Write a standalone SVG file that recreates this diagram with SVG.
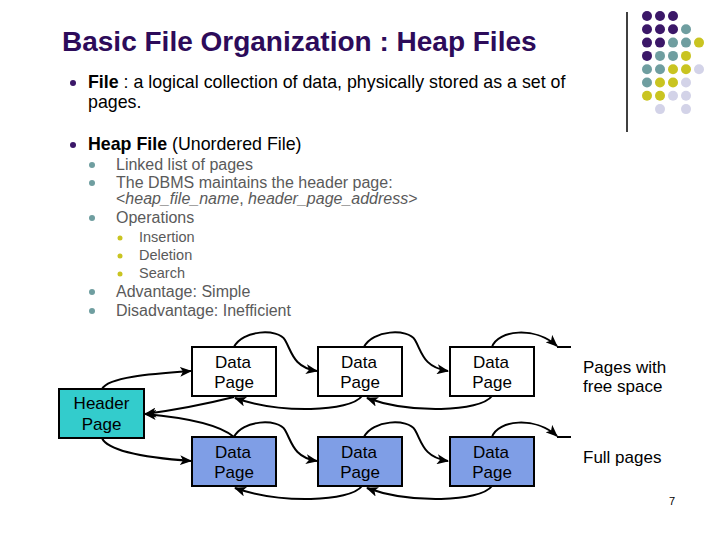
<svg xmlns="http://www.w3.org/2000/svg" width="720" height="540" viewBox="0 0 720 540">
<defs>
<style>
.t{font-family:"Liberation Sans",Arial,sans-serif}
.title{font-size:28px;font-weight:bold;fill:#2d0b5a}
.l1{font-size:17.8px;fill:#000}
.l2{font-size:16px;fill:#5a5a5a}
.l3{font-size:14.5px;fill:#5a5a5a}
.b{font-weight:bold}
.i{font-style:italic}
.nodeT{font-size:17px;fill:#000;text-anchor:middle}
.lbl{font-size:17px;fill:#000}
.box{stroke:#000;stroke-width:2}
.w{fill:#fff}
.f{fill:#7f9ee6}
.h{fill:#33cccc}
.c{fill:none;stroke:#000;stroke-width:2}
.a{marker-end:url(#arr)}
.p{fill:#3b1768}.g{fill:#6f9ea0}.y{fill:#c9c421}.v{fill:#d3d3e8}
</style>
<marker id="arr" viewBox="0 0 12 10" refX="11" refY="5" markerWidth="12" markerHeight="10" markerUnits="userSpaceOnUse" orient="auto">
<path d="M0,0 L12,5 L0,10 L3,5 z" fill="#000"/>
</marker>
</defs>
<rect width="720" height="540" fill="#fff"/>

<g id="decor">
<line x1="627" y1="12" x2="627" y2="132" stroke="#000" stroke-width="1.5"/>
<circle class="p" cx="647" cy="16" r="5"/><circle class="p" cx="660" cy="16" r="5"/><circle class="p" cx="673" cy="16" r="5"/>
<circle class="p" cx="647" cy="29.3" r="5"/><circle class="p" cx="660" cy="29.3" r="5"/><circle class="p" cx="673" cy="29.3" r="5"/><circle class="g" cx="686" cy="29.3" r="5"/>
<circle class="p" cx="647" cy="42.6" r="5"/><circle class="p" cx="660" cy="42.6" r="5"/><circle class="g" cx="673" cy="42.6" r="5"/><circle class="g" cx="686" cy="42.6" r="5"/><circle class="y" cx="699" cy="42.6" r="5"/>
<circle class="p" cx="647" cy="55.9" r="5"/><circle class="g" cx="660" cy="55.9" r="5"/><circle class="g" cx="673" cy="55.9" r="5"/><circle class="y" cx="686" cy="55.9" r="5"/>
<circle class="g" cx="647" cy="69.2" r="5"/><circle class="g" cx="660" cy="69.2" r="5"/><circle class="y" cx="673" cy="69.2" r="5"/><circle class="y" cx="686" cy="69.2" r="5"/><circle class="v" cx="699" cy="69.2" r="5"/>
<circle class="g" cx="647" cy="82.5" r="5"/><circle class="y" cx="660" cy="82.5" r="5"/><circle class="y" cx="673" cy="82.5" r="5"/><circle class="v" cx="686" cy="82.5" r="5"/>
<circle class="y" cx="647" cy="95.8" r="5"/><circle class="y" cx="660" cy="95.8" r="5"/><circle class="v" cx="673" cy="95.8" r="5"/><circle class="v" cx="686" cy="95.8" r="5"/>
<circle class="v" cx="660" cy="109.1" r="5"/><circle class="v" cx="686" cy="109.1" r="5"/>
</g>

<g id="text">
<text class="t title" x="62" y="51">Basic File Organization : Heap Files</text>
<circle class="p" cx="73" cy="83" r="3"/>
<text class="t l1" x="88" y="88"><tspan class="b">File</tspan> : a logical collection of data, physically stored as a set of<tspan x="88" dy="20.2">pages.</tspan></text>
<circle class="p" cx="73" cy="145" r="3"/>
<text class="t l1" x="88" y="150"><tspan class="b">Heap File</tspan> (Unordered File)</text>
<circle class="g" cx="92" cy="165" r="3"/>
<text class="t l2" x="116" y="170">Linked list of pages</text>
<circle class="g" cx="92" cy="183" r="3"/>
<text class="t l2" x="116" y="188">The DBMS maintains the header page:<tspan x="116" dy="16">&lt;</tspan><tspan class="i">heap_file_name</tspan>, <tspan class="i">header_page_address</tspan>&gt;</text>
<circle class="g" cx="92" cy="218" r="3"/>
<text class="t l2" x="116" y="223">Operations</text>
<circle class="y" cx="120" cy="238" r="2.5"/>
<text class="t l3" x="139" y="242">Insertion</text>
<circle class="y" cx="120" cy="256" r="2.5"/>
<text class="t l3" x="139" y="260">Deletion</text>
<circle class="y" cx="120" cy="274" r="2.5"/>
<text class="t l3" x="139" y="278">Search</text>
<circle class="g" cx="92" cy="292" r="3"/>
<text class="t l2" x="116" y="297">Advantage: Simple</text>
<circle class="g" cx="92" cy="311" r="3"/>
<text class="t l2" x="116" y="316">Disadvantage: Inefficient</text>
<text class="t lbl" x="583" y="373">Pages with<tspan x="583" dy="19">free space</tspan></text>
<text class="t lbl" x="583" y="463">Full pages</text>
<text class="t" x="669" y="505" font-size="11">7</text>
</g>

<g id="connectors">
<path class="c a" d="M102,389 C108,377 150,374 191,371"/>
<path class="c a" d="M234,347 C242,330 278,328 285,340 C292,352 293,367 317,371"/>
<path class="c a" d="M364,347 C372,330 408,328 415,340 C422,352 423,367 448,371"/>
<path class="c a" d="M492,347 C498,330 535,326 557,346"/>
<path class="c" d="M557,347 H571"/>
<path class="c a" d="M492,396 C480,412 410,414 367,398"/>
<path class="c a" d="M362,396 C350,412 280,414 235,398"/>
<path class="c a" d="M234,397 C210,403 175,410 145,414"/>
<path class="c a" d="M234,437 C220,425 190,418 145,414"/>
<path class="c a" d="M102,438 C108,452 150,458 191,461"/>
<path class="c a" d="M234,437 C242,420 278,418 285,430 C292,442 293,457 317,461"/>
<path class="c a" d="M364,437 C372,420 408,418 415,430 C422,442 423,457 448,461"/>
<path class="c a" d="M492,437 C498,420 535,416 557,436"/>
<path class="c" d="M557,437 H571"/>
<path class="c a" d="M492,486 C480,502 410,504 367,488"/>
<path class="c a" d="M362,486 C350,502 280,504 235,488"/>
</g>

<g id="header">
<rect class="box h" x="59" y="389" width="85" height="49"/>
<text class="t nodeT" x="101.5" y="409">Header</text>
<text class="t nodeT" x="101.5" y="430">Page</text>
</g>
<g id="free1">
<rect class="box w" x="192" y="347" width="84" height="49"/>
<text class="t nodeT" x="233" y="368">Data</text>
<text class="t nodeT" x="234" y="388">Page</text>
</g>
<g id="free2">
<rect class="box w" x="318" y="347" width="84" height="49"/>
<text class="t nodeT" x="359" y="368">Data</text>
<text class="t nodeT" x="360" y="388">Page</text>
</g>
<g id="free3">
<rect class="box w" x="450" y="347" width="84" height="49"/>
<text class="t nodeT" x="491" y="368">Data</text>
<text class="t nodeT" x="492" y="388">Page</text>
</g>
<g id="full1">
<rect class="box f" x="192" y="437" width="84" height="49"/>
<text class="t nodeT" x="233" y="458">Data</text>
<text class="t nodeT" x="234" y="478">Page</text>
</g>
<g id="full2">
<rect class="box f" x="318" y="437" width="84" height="49"/>
<text class="t nodeT" x="359" y="458">Data</text>
<text class="t nodeT" x="360" y="478">Page</text>
</g>
<g id="full3">
<rect class="box f" x="450" y="437" width="84" height="49"/>
<text class="t nodeT" x="491" y="458">Data</text>
<text class="t nodeT" x="492" y="478">Page</text>
</g>
</svg>
